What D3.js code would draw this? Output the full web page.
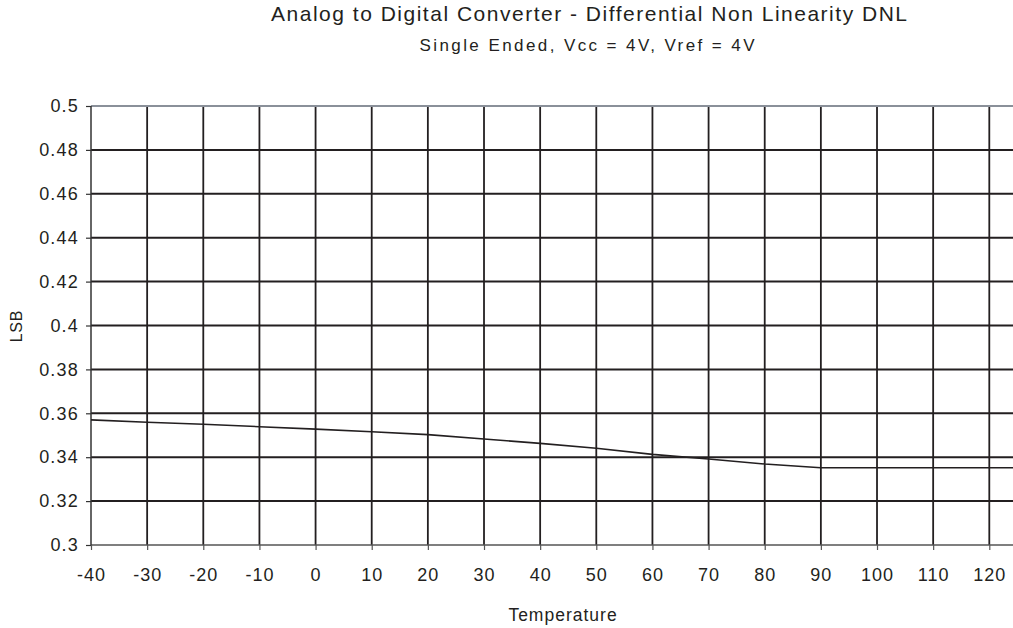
<!DOCTYPE html>
<html><head><meta charset="utf-8">
<script src="https://cdn.jsdelivr.net/npm/d3@7"></script>
<style>body{margin:0;background:#fff}svg{display:block}text{font-family:"Liberation Sans",Arial,sans-serif;fill:#231f20}</style>
</head><body>
<svg id="c" width="1013" height="628"></svg>
<script>
const temperature = [-40,-30,-20,-10,0,10,20,30,40,50,60,70,80,90,100,110,120,125];
const dnl = [0.3570,0.3559,0.3550,0.3539,0.3528,0.3516,0.3503,0.3483,0.3463,0.3441,0.3413,0.3392,0.3369,0.3352,0.3352,0.3352,0.3352,0.3352];
const xTicks = [-40,-30,-20,-10,0,10,20,30,40,50,60,70,80,90,100,110,120];
const yTicks = [0.3,0.32,0.34,0.36,0.38,0.4,0.42,0.44,0.46,0.48,0.5];
const title = "Analog to Digital Converter - Differential Non Linearity DNL";
const subtitle = "Single Ended,  Vcc = 4V, Vref = 4V";

const svg = d3.select("#c");
const x = d3.scaleLinear().domain([-40,120]).range([91,989.3]);
const y = d3.scaleLinear().domain([0.3,0.5]).range([545,106]);
const right = 1013;

// grid
svg.append("g").selectAll("line").data(yTicks.filter(d=>d>0.3&&d<0.5)).join("line")
  .attr("x1",91).attr("x2",right).attr("y1",d=>y(d)).attr("y2",d=>y(d))
  .attr("stroke","#231f20").attr("stroke-width",2);
svg.append("g").selectAll("line").data(xTicks.filter(d=>d>-40)).join("line")
  .attr("x1",d=>x(d)).attr("x2",d=>x(d)).attr("y1",106).attr("y2",545)
  .attr("stroke","#231f20").attr("stroke-width",1.8);
// top border
svg.append("line").attr("x1",91).attr("x2",right).attr("y1",106).attr("y2",106)
  .attr("stroke","#8a9099").attr("stroke-width",2);

// axes
const xAxis = d3.axisBottom(x).tickValues(xTicks).tickSize(5).tickPadding(18).tickFormat(d=>String(d));
const gx = svg.append("g").attr("transform","translate(0,545)").call(xAxis);
gx.select(".domain").attr("d",`M91,0H${right}`).attr("stroke","#555").attr("stroke-width",1.5);
gx.selectAll(".tick line").attr("stroke","#555").attr("stroke-width",1.2);
gx.selectAll("text").attr("font-size",18).attr("letter-spacing",1).style("fill","#231f20");

const yAxis = d3.axisLeft(y).tickValues(yTicks).tickSize(5).tickPadding(7).tickFormat(d=>String(+d.toFixed(2)));
const gy = svg.append("g").attr("transform","translate(91,0)").call(yAxis);
gy.select(".domain").attr("d","M0,106V545").attr("stroke","#333").attr("stroke-width",1.5);
gy.selectAll(".tick line").attr("stroke","#333").attr("stroke-width",1.2);
gy.selectAll("text").attr("font-size",18).attr("letter-spacing",1.2).style("fill","#231f20");

// data line
const line = d3.line().x((d,i)=>x(temperature[i])).y(d=>y(d));
svg.append("path").datum(dnl).attr("d",line).attr("fill","none")
  .attr("stroke","#231f20").attr("stroke-width",1.6);

// titles
svg.append("text").attr("x",589).attr("y",21).attr("text-anchor","middle").attr("font-size",21)
  .attr("textLength",636).attr("lengthAdjust","spacing").text(title);
svg.append("text").attr("x",587).attr("y",51).attr("text-anchor","middle").attr("font-size",17)
  .attr("textLength",335).attr("lengthAdjust","spacing").text(subtitle);
svg.append("text").attr("x",563).attr("y",621).attr("text-anchor","middle").attr("font-size",17.5).attr("letter-spacing",1).text("Temperature");
svg.append("text").attr("transform","translate(22,326) rotate(-90)").attr("text-anchor","middle").attr("font-size",16).attr("letter-spacing",0.8).text("LSB");
</script>
</body></html>
